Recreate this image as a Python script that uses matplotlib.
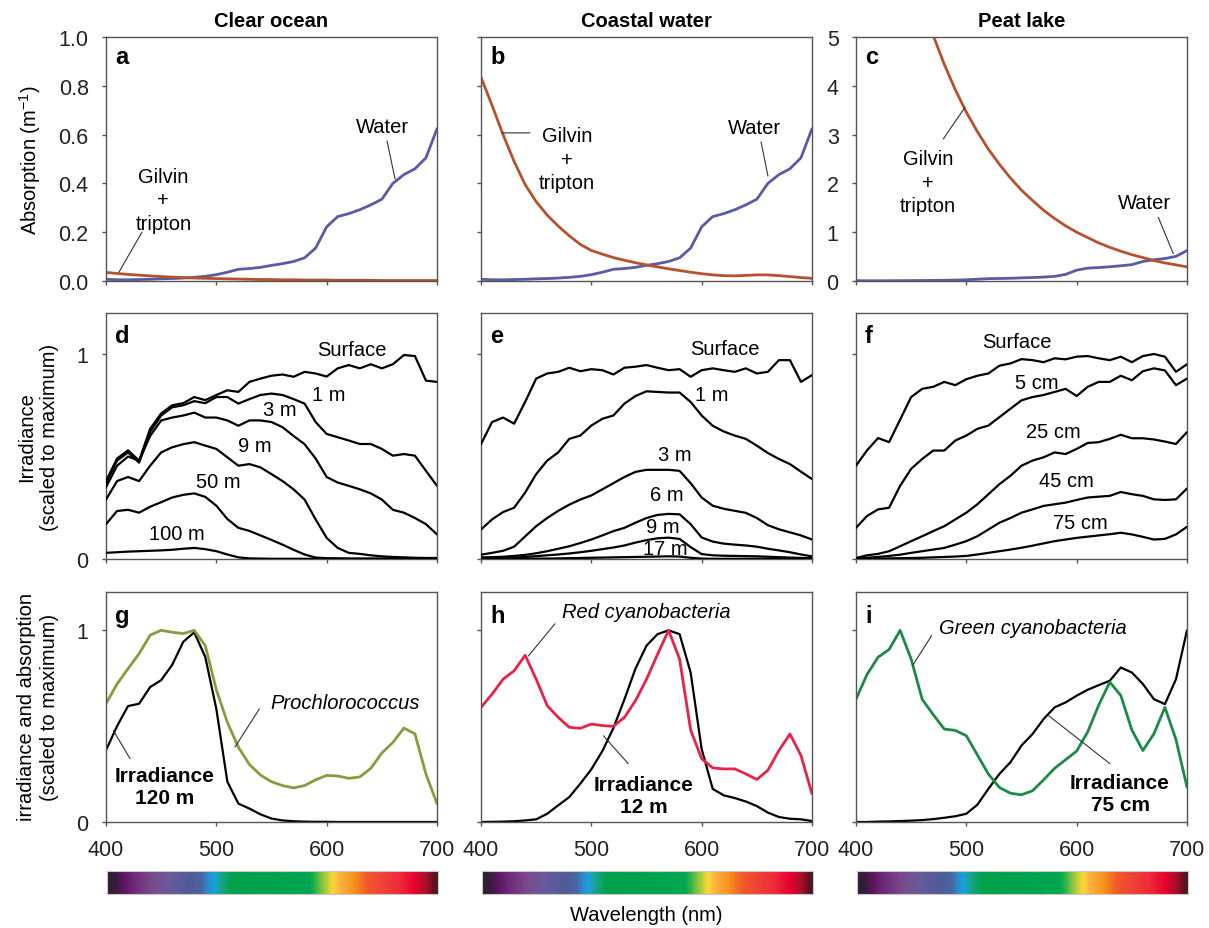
import numpy as np
import matplotlib.pyplot as plt
from matplotlib.colors import LinearSegmentedColormap

plt.rcParams['font.family'] = ['Liberation Sans', 'DejaVu Sans']
plt.rcParams['lines.solid_joinstyle'] = 'round'
plt.rcParams['lines.solid_capstyle'] = 'round'

W, H = 1209, 929
wl = np.arange(400, 701, 10)

# --- absorption (a-c) ---
water_abs = [0.007, 0.005, 0.005, 0.006, 0.007, 0.009, 0.010, 0.012, 0.015, 0.019, 0.026,
             0.036, 0.048, 0.051, 0.056, 0.064, 0.071, 0.080, 0.095, 0.135, 0.222,
             0.264, 0.276, 0.292, 0.312, 0.335, 0.400, 0.436, 0.460, 0.505, 0.624]
gilvin_ocean = [0.035, 0.031, 0.027, 0.024, 0.021, 0.018, 0.016, 0.014, 0.012, 0.011, 0.010,
                0.009, 0.008, 0.007, 0.006, 0.006, 0.005, 0.005, 0.004, 0.004, 0.004,
                0.003, 0.003, 0.003, 0.003, 0.002, 0.002, 0.002, 0.002, 0.002, 0.002]
gilvin_coastal = [0.835, 0.72, 0.60, 0.49, 0.395, 0.325, 0.27, 0.225, 0.185, 0.150, 0.125,
                  0.110, 0.096, 0.085, 0.075, 0.066, 0.058, 0.050, 0.043, 0.036, 0.030,
                  0.025, 0.022, 0.021, 0.023, 0.025, 0.025, 0.022, 0.018, 0.014, 0.011]
gilvin_peat = [12.0, 10.6, 9.34, 8.25, 7.29, 6.44, 5.69, 5.03, 4.44, 3.92, 3.46,
               3.06, 2.70, 2.39, 2.11, 1.86, 1.65, 1.45, 1.28, 1.13, 1.00,
               0.89, 0.78, 0.69, 0.61, 0.54, 0.48, 0.42, 0.37, 0.33, 0.29]

# --- irradiance profiles (d-f) ---
ocean_irr = {
    'Surface': [0.38, 0.49, 0.53, 0.48, 0.635, 0.71, 0.75, 0.76, 0.79, 0.775, 0.80,
                0.823, 0.815, 0.864, 0.88, 0.894, 0.90, 0.889, 0.913, 0.905, 0.89,
                0.93, 0.946, 0.93, 0.95, 0.93, 0.95, 0.995, 0.99, 0.87, 0.864],
    '1 m': [0.37, 0.48, 0.52, 0.47, 0.62, 0.70, 0.74, 0.75, 0.77, 0.76, 0.79,
            0.79, 0.758, 0.78, 0.80, 0.807, 0.80, 0.78, 0.758, 0.668, 0.61,
            0.594, 0.578, 0.561, 0.561, 0.537, 0.504, 0.512, 0.504, 0.43, 0.357],
    '3 m': [0.35, 0.455, 0.50, 0.48, 0.60, 0.676, 0.69, 0.70, 0.714, 0.69, 0.69,
            0.676, 0.65, 0.676, 0.676, 0.668, 0.643, 0.60, 0.56, 0.49, 0.40,
            0.373, 0.357, 0.34, 0.32, 0.29, 0.24, 0.226, 0.20, 0.17, 0.12],
    '9 m': [0.29, 0.38, 0.40, 0.38, 0.455, 0.52, 0.545, 0.56, 0.57, 0.553, 0.537,
            0.496, 0.455, 0.463, 0.447, 0.414, 0.38, 0.34, 0.29, 0.193, 0.103,
            0.054, 0.03, 0.025, 0.018, 0.013, 0.01, 0.008, 0.006, 0.005, 0.005],
    '50 m': [0.17, 0.234, 0.24, 0.226, 0.255, 0.277, 0.30, 0.313, 0.32, 0.303, 0.26,
             0.195, 0.152, 0.137, 0.115, 0.093, 0.07, 0.045, 0.022, 0.007, 0.004,
             0.003, 0.002, 0.002, 0.002, 0.002, 0.002, 0.002, 0.002, 0.002, 0.002],
    '100 m': [0.03, 0.033, 0.036, 0.038, 0.04, 0.042, 0.045, 0.05, 0.054, 0.048, 0.038,
              0.022, 0.008, 0.003, 0.002, 0.001, 0.001, 0.001, 0.001, 0.001, 0.001,
              0.001, 0.001, 0.001, 0.001, 0.001, 0.001, 0.001, 0.001, 0.001, 0.001],
}
coastal_irr = {
    'Surface': [0.56, 0.668, 0.69, 0.66, 0.766, 0.88, 0.905, 0.913, 0.933, 0.916, 0.926,
                0.921, 0.90, 0.933, 0.938, 0.946, 0.933, 0.921, 0.926, 0.889, 0.921,
                0.93, 0.921, 0.913, 0.93, 0.905, 0.913, 0.97, 0.97, 0.864, 0.897],
    '1 m': [0.144, 0.193, 0.229, 0.25, 0.324, 0.414, 0.48, 0.52, 0.586, 0.602, 0.651,
            0.684, 0.70, 0.758, 0.795, 0.818, 0.815, 0.812, 0.812, 0.766, 0.70,
            0.65, 0.622, 0.602, 0.586, 0.553, 0.517, 0.488, 0.463, 0.426, 0.39],
    '3 m': [0.021, 0.03, 0.04, 0.06, 0.11, 0.16, 0.20, 0.235, 0.265, 0.29, 0.31,
            0.34, 0.37, 0.40, 0.425, 0.435, 0.435, 0.435, 0.43, 0.37, 0.30,
            0.26, 0.245, 0.235, 0.225, 0.20, 0.165, 0.145, 0.13, 0.115, 0.095],
    '6 m': [0.008, 0.009, 0.011, 0.015, 0.02, 0.028, 0.038, 0.05, 0.062, 0.078, 0.095,
            0.115, 0.136, 0.152, 0.177, 0.20, 0.215, 0.22, 0.218, 0.17, 0.105,
            0.085, 0.075, 0.07, 0.066, 0.06, 0.05, 0.042, 0.033, 0.022, 0.013],
    '9 m': [0.003, 0.004, 0.005, 0.007, 0.01, 0.014, 0.018, 0.022, 0.027, 0.033, 0.04,
            0.048, 0.056, 0.066, 0.08, 0.092, 0.101, 0.104, 0.098, 0.058, 0.024,
            0.018, 0.016, 0.015, 0.014, 0.013, 0.011, 0.009, 0.007, 0.005, 0.004],
    '17 m': [0.0, 0.0, 0.001, 0.001, 0.001, 0.002, 0.002, 0.003, 0.004, 0.005, 0.006,
             0.007, 0.008, 0.009, 0.01, 0.011, 0.012, 0.013, 0.012, 0.006, 0.002,
             0.001, 0.001, 0.001, 0.001, 0.001, 0.001, 0.0, 0.0, 0.0, 0.0],
}
peat_irr = {
    'Surface': [0.455, 0.53, 0.59, 0.57, 0.68, 0.79, 0.83, 0.84, 0.864, 0.848, 0.877,
                0.894, 0.905, 0.943, 0.954, 0.975, 0.97, 0.96, 0.979, 0.974, 0.987,
                0.99, 0.979, 0.97, 0.987, 0.96, 0.99, 1.0, 0.987, 0.913, 0.95],
    '5 cm': [0.152, 0.21, 0.242, 0.25, 0.357, 0.44, 0.488, 0.529, 0.529, 0.578, 0.602,
             0.635, 0.651, 0.692, 0.733, 0.774, 0.79, 0.80, 0.815, 0.83, 0.795,
             0.84, 0.864, 0.864, 0.894, 0.872, 0.916, 0.93, 0.92, 0.848, 0.88],
    '25 cm': [0.005, 0.018, 0.025, 0.038, 0.062, 0.087, 0.111, 0.136, 0.16, 0.193, 0.226,
              0.267, 0.316, 0.365, 0.406, 0.455, 0.48, 0.496, 0.52, 0.512, 0.537,
              0.566, 0.57, 0.586, 0.606, 0.589, 0.589, 0.583, 0.573, 0.561, 0.619],
    '45 cm': [0.002, 0.006, 0.01, 0.015, 0.021, 0.03, 0.038, 0.046, 0.054, 0.07, 0.087,
              0.111, 0.144, 0.177, 0.20, 0.226, 0.242, 0.259, 0.267, 0.275, 0.288,
              0.30, 0.304, 0.308, 0.327, 0.316, 0.308, 0.291, 0.288, 0.291, 0.344],
    '75 cm': [0.0, 0.001, 0.002, 0.003, 0.004, 0.005, 0.006, 0.008, 0.01, 0.012, 0.015,
              0.022, 0.03, 0.038, 0.046, 0.055, 0.065, 0.076, 0.087, 0.095, 0.103,
              0.109, 0.115, 0.121, 0.128, 0.12, 0.108, 0.095, 0.098, 0.12, 0.157],
}

# --- pigment absorption vs deep irradiance (g-i) ---
pro_abs = [0.617, 0.72, 0.80, 0.878, 0.975, 1.0, 0.99, 0.983, 1.0, 0.92, 0.69,
           0.52, 0.39, 0.30, 0.245, 0.21, 0.19, 0.178, 0.19, 0.22, 0.243,
           0.24, 0.228, 0.235, 0.28, 0.36, 0.415, 0.49, 0.46, 0.25, 0.096]
irr_120m = [0.374, 0.50, 0.605, 0.617, 0.704, 0.74, 0.82, 0.94, 0.99, 0.86, 0.59,
            0.21, 0.096, 0.07, 0.04, 0.018, 0.008, 0.004, 0.002, 0.001, 0.001,
            0.0, 0.0, 0.0, 0.0, 0.0, 0.0, 0.0, 0.0, 0.0, 0.0]
red_cyano = [0.598, 0.667, 0.745, 0.789, 0.87, 0.745, 0.607, 0.546, 0.494, 0.489, 0.511,
             0.503, 0.499, 0.546, 0.633, 0.745, 0.875, 1.0, 0.85, 0.48, 0.33,
             0.282, 0.277, 0.277, 0.251, 0.222, 0.27, 0.373, 0.459, 0.347, 0.147]
irr_12m = [0.0, 0.001, 0.002, 0.004, 0.008, 0.014, 0.043, 0.087, 0.13, 0.20, 0.275,
           0.37, 0.49, 0.64, 0.80, 0.92, 0.98, 1.0, 0.98, 0.78, 0.38,
           0.173, 0.139, 0.125, 0.107, 0.083, 0.049, 0.026, 0.017, 0.014, 0.005]
green_cyano = [0.641, 0.77, 0.86, 0.90, 1.0, 0.85, 0.64, 0.56, 0.485, 0.478, 0.45,
               0.35, 0.25, 0.18, 0.15, 0.142, 0.163, 0.22, 0.28, 0.325, 0.37,
               0.47, 0.61, 0.73, 0.66, 0.48, 0.373, 0.46, 0.598, 0.43, 0.182]
irr_75cm = [0.0, 0.0, 0.002, 0.003, 0.005, 0.007, 0.01, 0.015, 0.022, 0.03, 0.043,
            0.09, 0.173, 0.251, 0.312, 0.399, 0.459, 0.537, 0.598, 0.624, 0.659,
            0.69, 0.714, 0.737, 0.806, 0.78, 0.72, 0.641, 0.615, 0.745, 1.0]

col_titles = ['Clear ocean', 'Coastal water', 'Peat lake']

spectrum_nm = [400, 407, 414, 424, 440, 456, 474, 485, 492, 497, 503, 513, 584, 590,
               596, 605, 612, 624, 636, 651, 666, 680, 690, 697, 700]
spectrum_colors = ['#2a1f2e', '#3b1a3e', '#5e1462', '#6e2a78', '#7a4a8c', '#675a9c',
                   '#515a98', '#4a64a0', '#2a8ed0', '#17a3dd', '#1aa28a', '#00a14b',
                   '#00a650', '#3ab54a', '#8dc63f', '#fdd835', '#fbb040', '#f7941d',
                   '#f15a29', '#ef4136', '#ee2a3a', '#e8002d', '#a8102a', '#6a0d1d',
                   '#3a2020']

# colours
c_water = '#5a5aa6'
c_gilvin = '#b5522d'
c_pro = '#8a9a3e'
c_red = '#e8234a'
c_green = '#1d8a48'
c_spine = '#555555'
c_lead = '#333333'

fig = plt.figure(figsize=(W / 100, H / 100), dpi=100)

col_left = [106, 481, 856]
col_w = 331
rows = [(38, 282), (314, 560), (593, 823)]


def add_ax(col, row):
    top, bot = rows[row]
    return fig.add_axes([col_left[col] / W, 1 - bot / H, col_w / W, (bot - top) / H])


def style(ax, ylim, yticks, ylab, xlab, yfmt=None):
    ax.set_xlim(400, 700)
    ax.set_ylim(*ylim)
    ax.set_xticks([400, 500, 600, 700])
    ax.set_yticks(yticks)
    if yfmt:
        ax.set_yticklabels([yfmt % v for v in yticks])
    ax.tick_params(direction='out', length=3, width=1, labelsize=15.5,
                   pad=9.5, labelleft=ylab, labelbottom=xlab, colors='#222222')
    ax.tick_params(color=c_spine)
    for sp in ax.spines.values():
        sp.set_color(c_spine)
        sp.set_linewidth(1.0)


def letter(ax, s, off):
    ax.annotate(s, xy=(0, 1), xycoords='axes fraction', xytext=(9, -off),
                textcoords='offset pixels', ha='left', va='top',
                fontsize=17, fontweight='bold')


def lead(ax, x0, y0, x1, y1):
    ax.annotate('', xy=(x1, y1), xytext=(x0, y0),
                arrowprops=dict(arrowstyle='-', color=c_lead, lw=0.8,
                                shrinkA=0, shrinkB=0))


fs = 14.5

# ---------- row 1: absorption ----------
ax_a = add_ax(0, 0)
ax_a.plot(wl, water_abs, color=c_water, lw=2.0)
ax_a.plot(wl, gilvin_ocean, color=c_gilvin, lw=2.0)
style(ax_a, (0, 1.0), np.arange(0, 1.01, 0.2), True, False, '%.1f')
letter(ax_a, 'a', 8)
ax_a.text(452, 0.332, 'Gilvin\n+\ntripton', ha='center', va='center', fontsize=fs,
          linespacing=1.3)
lead(ax_a, 432.6, 0.20, 411.8, 0.037)
ax_a.text(651, 0.635, 'Water', ha='center', va='center', fontsize=fs)
lead(ax_a, 654.7, 0.574, 662, 0.418)

ax_b = add_ax(1, 0)
ax_b.plot(wl, water_abs, color=c_water, lw=2.0)
ax_b.plot(wl, gilvin_coastal, color=c_gilvin, lw=2.0)
style(ax_b, (0, 1.0), np.arange(0, 1.01, 0.2), False, False)
letter(ax_b, 'b', 8)
ax_b.text(478, 0.50, 'Gilvin\n+\ntripton', ha='center', va='center', fontsize=fs,
          linespacing=1.3)
lead(ax_b, 444.4, 0.607, 419, 0.607)
ax_b.text(648.3, 0.631, 'Water', ha='center', va='center', fontsize=fs)
lead(ax_b, 653.8, 0.57, 660.1, 0.43)

ax_c = add_ax(2, 0)
ax_c.plot(wl, water_abs, color=c_water, lw=2.0)
ax_c.plot(wl, gilvin_peat, color=c_gilvin, lw=2.0)
style(ax_c, (0, 5), np.arange(0, 6, 1), True, False)
letter(ax_c, 'c', 8)
ax_c.text(465.3, 2.02, 'Gilvin\n+\ntripton', ha='center', va='center', fontsize=fs,
          linespacing=1.3)
lead(ax_c, 479.1, 2.91, 498.8, 3.56)
ax_c.text(661.9, 1.61, 'Water', ha='center', va='center', fontsize=fs)
lead(ax_c, 674, 1.305, 687.6, 0.56)

for ax, t in zip([ax_a, ax_b, ax_c], col_titles):
    ax.set_title(t, fontsize=14.5, fontweight='bold', pad=8)

# ---------- row 2: irradiance with depth ----------
irr_sets = [ocean_irr, coastal_irr, peat_irr]
irr_labels = [
    {'Surface': (622.7, 1.02), '1 m': (601.5, 0.80), '3 m': (557.7, 0.727),
     '9 m': (535, 0.552), '50 m': (501.8, 0.376), '100 m': (464, 0.123)},
    {'Surface': (621, 1.025), '1 m': (609, 0.80), '3 m': (575.8, 0.51),
     '6 m': (568.3, 0.315), '9 m': (565, 0.16), '17 m': (567, 0.05)},
    {'Surface': (545.6, 1.062), '5 cm': (563.8, 0.863), '25 cm': (578.9, 0.624),
     '45 cm': (591, 0.384), '75 cm': (603, 0.18)},
]
for i, (data, labs, let) in enumerate(zip(irr_sets, irr_labels, 'def')):
    ax = add_ax(i, 1)
    for name, vals in data.items():
        ax.plot(wl, vals, color='black', lw=1.6, zorder=3)
        x, y = labs[name]
        ax.text(x, y, name, ha='center', va='center', fontsize=fs, zorder=2)
    style(ax, (0, 1.2), [0, 1], i == 0, False)
    letter(ax, let, 11)

# ---------- row 3: pigments vs irradiance ----------
ax_g = add_ax(0, 2)
ax_g.plot(wl, irr_120m, color='black', lw=1.6)
ax_g.plot(wl, pro_abs, color=c_pro, lw=2.0)
style(ax_g, (0, 1.2), [0, 1], True, True)
letter(ax_g, 'g', 12)
ax_g.text(616.6, 0.626, 'Prochlorococcus', ha='center', va='center', fontsize=fs,
          style='italic')
lead(ax_g, 539, 0.59, 516.9, 0.391)
ax_g.text(452.8, 0.187, 'Irradiance\n120 m', ha='center', va='center', fontsize=15,
          fontweight='bold', linespacing=1.2)
lead(ax_g, 421.8, 0.33, 406.6, 0.478)

ax_h = add_ax(1, 2)
ax_h.plot(wl, irr_12m, color='black', lw=1.6)
ax_h.plot(wl, red_cyano, color=c_red, lw=2.0)
style(ax_h, (0, 1.2), [0, 1], False, True)
letter(ax_h, 'h', 12)
ax_h.text(550.2, 1.099, 'Red cyanobacteria', ha='center', va='center', fontsize=fs,
          style='italic')
lead(ax_h, 467, 1.034, 442.9, 0.866)
ax_h.text(547.7, 0.137, 'Irradiance\n12 m', ha='center', va='center', fontsize=15,
          fontweight='bold', linespacing=1.2)
lead(ax_h, 533.5, 0.304, 510.9, 0.45)

ax_i = add_ax(2, 2)
ax_i.plot(wl, irr_75cm, color='black', lw=1.6)
ax_i.plot(wl, green_cyano, color=c_green, lw=2.0)
style(ax_i, (0, 1.2), [0, 1], False, True)
letter(ax_i, 'i', 12)
ax_i.text(560.7, 1.017, 'Green cyanobacteria', ha='center', va='center', fontsize=fs,
          style='italic')
lead(ax_i, 468.6, 0.973, 451.4, 0.817)
ax_i.text(639.3, 0.15, 'Irradiance\n75 cm', ha='center', va='center', fontsize=15,
          fontweight='bold', linespacing=1.2)
lead(ax_i, 630.2, 0.304, 574.3, 0.556)

# ---------- spectrum bars ----------
spec_cmap = LinearSegmentedColormap.from_list(
    'spec', list(zip((np.array(spectrum_nm) - 400) / 300.0, spectrum_colors)))
grad = np.linspace(400, 700, 600)[None, :]
for c in range(3):
    axc = fig.add_axes([(col_left[c] + 1) / W, 1 - 895 / H, col_w / W, 23 / H])
    axc.imshow(grad, aspect='auto', cmap=spec_cmap, extent=[400, 700, 0, 1],
               vmin=400, vmax=700)
    axc.set_xticks([])
    axc.set_yticks([])
    for sp in axc.spines.values():
        sp.set_color('#c8c8c8')
        sp.set_linewidth(0.8)

# ---------- shared labels ----------
fig.text(30 / W, 1 - 160 / H, 'Absorption (m$^{\\mathregular{-1}}$)', rotation=90,
         ha='center', va='center', fontsize=14.5)
fig.text(38 / W, 1 - 437 / H, 'Irradiance\n(scaled to maximum)', rotation=90,
         ha='center', va='center', fontsize=14.5, linespacing=1.3)
fig.text(38 / W, 1 - 707 / H, 'irradiance and absorption\n(scaled to maximum)',
         rotation=90, ha='center', va='center', fontsize=14.5, linespacing=1.3)
fig.text(646 / W, 1 - 916 / H, 'Wavelength (nm)', ha='center', va='center',
         fontsize=14.5)

fig.savefig('out.png', dpi=100)
